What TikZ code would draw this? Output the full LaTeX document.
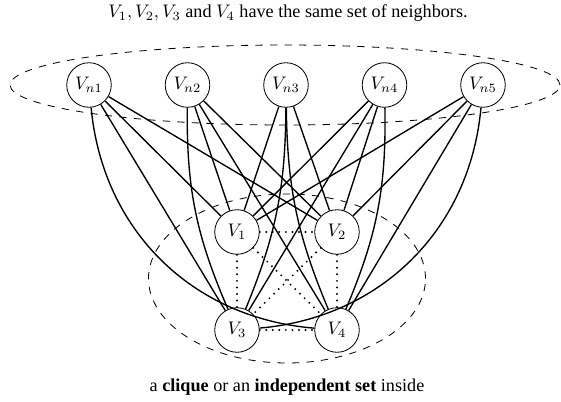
\documentclass[tikz,border=0pt]{standalone}
\usepackage{fontspec}
\setmainfont{Liberation Serif}
\begin{document}
\begin{tikzpicture}[x=0.55pt,y=0.55pt,
  vtx/.style={circle,draw,line width=0.45pt,minimum size=24.5pt,inner sep=0.5pt,font=\normalsize},
  edge/.style={line width=0.75pt},
  dotedge/.style={line width=1.2pt,line cap=round,dash pattern=on 0pt off 3.6pt},
  grp/.style={line width=0.45pt,dash pattern=on 4pt off 4pt}]
\useasboundingbox (0,0) rectangle (561,401);
% groups
\draw[grp] (285,316) ellipse [x radius=275, y radius=40];
\draw[grp] (287,122.5) ellipse [x radius=138.5, y radius=84.5];
% nodes
\node[vtx,fill=white] (vn1) at (89,316) {$V_{n1}$};
\node[vtx,fill=white] (vn2) at (187.5,316) {$V_{n2}$};
\node[vtx,fill=white] (vn3) at (286,316) {$V_{n3}$};
\node[vtx,fill=white] (vn4) at (384.5,316) {$V_{n4}$};
\node[vtx,fill=white] (vn5) at (483,316) {$V_{n5}$};
\node[vtx] (v1) at (237,169) {$V_1$};
\node[vtx] (v2) at (337,169) {$V_2$};
\node[vtx] (v3) at (237,71) {$V_3$};
\node[vtx] (v4) at (337,71) {$V_4$};
% edges
\draw[edge] (vn1) -- (v1);
\draw[edge] (vn1) -- (v2);
\draw[edge] (vn1) -- (v3);
\draw[edge] (vn1) to[bend right=40] (v4);
\draw[edge] (vn2) -- (v1);
\draw[edge] (vn2) -- (v2);
\draw[edge] (vn2) to[bend right=12] (v3);
\draw[edge] (vn2) -- (v4);
\draw[edge] (vn3) -- (v1);
\draw[edge] (vn3) -- (v2);
\draw[edge] (vn3) to[bend left=11] (v3);
\draw[edge] (vn3) to[bend right=11] (v4);
\draw[edge] (vn4) -- (v1);
\draw[edge] (vn4) -- (v2);
\draw[edge] (vn4) -- (v3);
\draw[edge] (vn4) to[bend left=12] (v4);
\draw[edge] (vn5) -- (v1);
\draw[edge] (vn5) -- (v2);
\draw[edge] (vn5) to[bend left=40] (v3);
\draw[edge] (vn5) -- (v4);
% inner dotted edges
\draw[dotedge] (v1) -- (v2);
\draw[dotedge] (v3) -- (v4);
\draw[dotedge] (v1) -- (v3);
\draw[dotedge] (v2) -- (v4);
\draw[dotedge] (v1) -- (v4);
\draw[dotedge] (v2) -- (v3);
% texts
\node (title) at (288,388) {$V_1, V_2, V_3$ and $V_4$ have the same set of neighbors.};
\node (caption) at (287,14) {a \textbf{clique} or an \textbf{independent set} inside};
\end{tikzpicture}
\end{document}
